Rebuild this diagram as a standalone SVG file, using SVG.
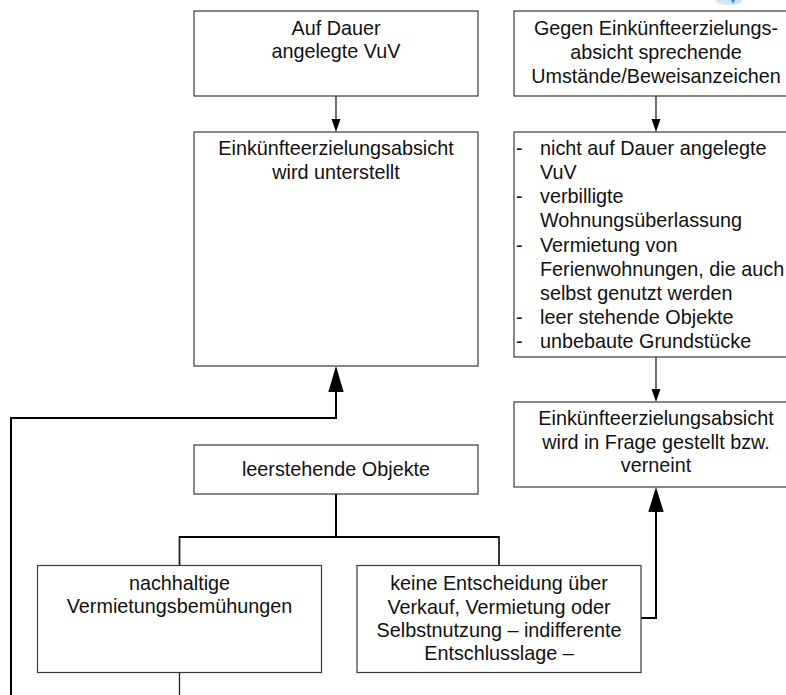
<svg xmlns="http://www.w3.org/2000/svg" width="786" height="695" viewBox="0 0 786 695">
  <style>
    .box { fill: #ffffff; stroke: #3a3a3a; stroke-width: 1.2; }
    .t { font-family: "Liberation Sans", Arial, sans-serif; font-size: 19.8px; fill: #111111; }
    .c { text-anchor: middle; }
    .thin { fill: none; stroke: #222222; stroke-width: 1.3; }
    .thick { fill: none; stroke: #000000; stroke-width: 2; }
    .head { fill: #000000; }
  </style>
  <rect x="0" y="0" width="786" height="695" fill="#ffffff"/>

  <!-- small blue mark at the top edge -->
  <ellipse cx="729" cy="1" rx="13" ry="4" fill="#cfe6f7"/>
  <path d="M731 0 L735 0 L733 4 Z" fill="#3d8fd6"/>

  <g id="connectors">
    <!-- Auf Dauer -> unterstellt -->
    <line class="thin" x1="336" y1="96" x2="336" y2="120"/>
    <path class="head" d="M331.5 119 L340.5 119 L336 132 Z"/>
    <!-- Gegen ... -> Liste -->
    <line class="thin" x1="656" y1="96" x2="656" y2="120"/>
    <path class="head" d="M651.5 119 L660.5 119 L656 132 Z"/>
    <!-- Liste -> in Frage gestellt -->
    <line class="thin" x1="656" y1="357" x2="656" y2="390"/>
    <path class="head" d="M651.5 389 L660.5 389 L656 402 Z"/>
    <!-- leerstehende Objekte -> two branches -->
    <polyline class="thick" points="336,494 336,537"/>
    <polyline class="thin" points="179.5,565.5 179.5,537 499,537 499,565.5" style="stroke-width:1.8"/>
    <line class="thick" x1="179.5" y1="537" x2="499" y2="537"/>
    <!-- nachhaltige Vermietungsbemühungen -> unterstellt (feedback) -->
    <line class="thin" x1="179.5" y1="672" x2="179.5" y2="695"/>
    <polyline class="thick" points="11,695 11,418 336,418 336,390"/>
    <path class="head" d="M328.3 392 L343.7 392 L336 366 Z"/>
    <!-- indifferente Entschlusslage -> in Frage gestellt -->
    <polyline class="thick" points="641,618 656,618 656,510"/>
    <path class="head" d="M648.3 512 L663.7 512 L656 487 Z"/>
  </g>

  <g id="auf-dauer">
    <rect class="box" x="194" y="11" width="284" height="85"/>
    <text class="t c" x="336" y="34.5">Auf Dauer</text>
    <text class="t c" x="336" y="58">angelegte VuV</text>
  </g>

  <g id="gegen-umstaende">
    <rect class="box" x="514" y="11" width="290" height="85"/>
    <text class="t c" x="656" y="35">Gegen Einkünfteerzielungs-</text>
    <text class="t c" x="656" y="59">absicht sprechende</text>
    <text class="t c" x="656" y="83">Umstände/Beweisanzeichen</text>
  </g>

  <g id="unterstellt">
    <rect class="box" x="194" y="132" width="284" height="234"/>
    <text class="t c" x="336" y="154.5">Einkünfteerzielungsabsicht</text>
    <text class="t c" x="336" y="178.5">wird unterstellt</text>
  </g>

  <g id="beweisanzeichen">
    <rect class="box" x="514" y="132" width="290" height="225"/>
    <text class="t" x="516" y="155">-</text>
    <text class="t" x="540" y="155">nicht auf Dauer angelegte</text>
    <text class="t" x="540" y="179">VuV</text>
    <text class="t" x="516" y="203">-</text>
    <text class="t" x="540" y="203">verbilligte</text>
    <text class="t" x="540" y="227">Wohnungsüberlassung</text>
    <text class="t" x="516" y="251.5">-</text>
    <text class="t" x="540" y="251.5">Vermietung von</text>
    <text class="t" x="540" y="275.5">Ferienwohnungen, die auch</text>
    <text class="t" x="540" y="299.5">selbst genutzt werden</text>
    <text class="t" x="516" y="323.5">-</text>
    <text class="t" x="540" y="323.5">leer stehende Objekte</text>
    <text class="t" x="516" y="347.5">-</text>
    <text class="t" x="540" y="347.5">unbebaute Grundstücke</text>
  </g>

  <g id="in-frage-gestellt">
    <rect class="box" x="514" y="402" width="290" height="85"/>
    <text class="t c" x="656" y="425">Einkünfteerzielungsabsicht</text>
    <text class="t c" x="656" y="448.5">wird in Frage gestellt bzw.</text>
    <text class="t c" x="656" y="472">verneint</text>
  </g>

  <g id="leerstehende-objekte">
    <rect class="box" x="194" y="445" width="284" height="49"/>
    <text class="t c" x="336" y="476">leerstehende Objekte</text>
  </g>

  <g id="nachhaltige-vermietung">
    <rect class="box" x="37.5" y="565.5" width="284" height="107"/>
    <text class="t c" x="179.5" y="590">nachhaltige</text>
    <text class="t c" x="179.5" y="613">Vermietungsbemühungen</text>
  </g>

  <g id="keine-entscheidung">
    <rect class="box" x="357" y="565.5" width="284" height="107"/>
    <text class="t c" x="499" y="590">keine Entscheidung über</text>
    <text class="t c" x="499" y="613.5">Verkauf, Vermietung oder</text>
    <text class="t c" x="499" y="637">Selbstnutzung – indifferente</text>
    <text class="t c" x="499" y="660">Entschlusslage –</text>
  </g>
</svg>
